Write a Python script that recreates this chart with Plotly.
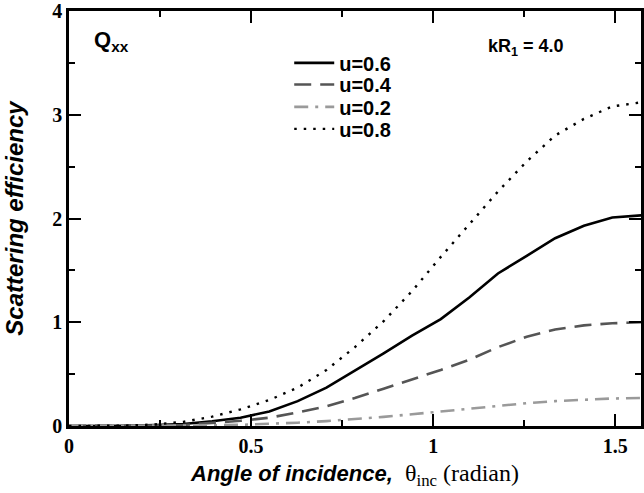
import numpy as np
import plotly.graph_objects as go

# sample angles (radian), 0 .. pi/2 in steps of pi/40
theta = [0.0, 0.0785, 0.157, 0.236, 0.314, 0.393, 0.471, 0.550, 0.628, 0.707,
         0.785, 0.864, 0.942, 1.021, 1.100, 1.178, 1.257, 1.335, 1.414, 1.492, 1.571]

q_u06 = [0.0, 0.0, 0.002, 0.008, 0.02, 0.045, 0.08, 0.14, 0.24, 0.37,
         0.53, 0.70, 0.87, 1.03, 1.24, 1.47, 1.64, 1.81, 1.93, 2.01, 2.03]
q_u04 = [0.0, 0.0, 0.001, 0.004, 0.01, 0.03, 0.05, 0.08, 0.13, 0.19,
         0.27, 0.36, 0.45, 0.54, 0.64, 0.76, 0.86, 0.93, 0.97, 0.99, 1.0]
q_u02 = [0.0, 0.0, 0.0, 0.001, 0.003, 0.006, 0.011, 0.02, 0.032, 0.047,
         0.066, 0.088, 0.113, 0.14, 0.168, 0.195, 0.22, 0.24, 0.255, 0.265, 0.27]
q_u08 = [0.0, 0.0, 0.004, 0.015, 0.04, 0.09, 0.16, 0.25, 0.37, 0.54,
         0.76, 1.01, 1.30, 1.63, 1.95, 2.26, 2.55, 2.80, 2.96, 3.08, 3.12]

series_names = ["u=0.6", "u=0.4", "u=0.2", "u=0.8"]
series_vals = [q_u06, q_u04, q_u02, q_u08]

x_ticks = [0, 0.5, 1, 1.5]
x_ticklabels = ["0", "0.5", "1", "1.5"]
y_ticks = [0, 1, 2, 3, 4]
y_ticklabels = ["0", "1", "2", "3", "4"]

SANS = "Liberation Sans, Arial, sans-serif"
SERIF = "Liberation Serif, Times New Roman, serif"

styles = [
    dict(color="black", width=2.6, dash="solid"),
    dict(color="#555555", width=2.6, dash="17px,9px"),
    dict(color="#9a9a9a", width=2.6, dash="14px,7px,3px,7px"),
    dict(color="black", width=2.4, dash="2.5px,7px"),
]
legend_ids = ["legend", "legend2", "legend3", "legend4"]
legend_rows = [0.875, 0.823, 0.769, 0.716]

fig = go.Figure()
for name, vals, st, lid in zip(series_names, series_vals, styles, legend_ids):
    fig.add_trace(go.Scatter(x=theta, y=vals, mode="lines", name=name, line=st, legend=lid))

axis_common = dict(
    showline=True, linecolor="black", linewidth=2.5, mirror="allticks",
    ticks="inside", ticklen=12, tickwidth=2, tickcolor="black",
    showgrid=False, zeroline=False, ticklabeloverflow="allow",
    tickfont=dict(family=SERIF, size=20, color="black", weight="bold"),
)

fig.update_xaxes(
    range=[0, np.pi / 2], tickmode="array", tickvals=x_ticks, ticktext=x_ticklabels,
    minor=dict(ticks="inside", ticklen=6, dtick=0.25, tick0=0, tickwidth=1.5, tickcolor="black", showgrid=False),
    title=dict(
        text="<b><i>Angle of incidence,</i></b>  <span style='font-family:Liberation Serif;font-size:24px'>θ<sub>inc</sub> (radian)</span>",
        font=dict(family=SANS, size=22, color="black"), standoff=10),
    **axis_common,
)
fig.update_yaxes(
    range=[0, 4], tickmode="array", tickvals=y_ticks, ticktext=y_ticklabels,
    minor=dict(ticks="inside", ticklen=6, dtick=0.5, tick0=0, tickwidth=1.5, tickcolor="black", showgrid=False),
    title=dict(text="<b><i>Scattering efficiency</i></b>",
               font=dict(family=SANS, size=24, color="black"), standoff=22),
    **axis_common,
)

fig.add_annotation(x=0.04, y=0.928, xref="paper", yref="paper", xanchor="left", yanchor="middle",
                   text="<b>Q<sub>xx</sub></b>", showarrow=False,
                   font=dict(family=SANS, size=22, color="black"))
fig.add_annotation(x=0.729, y=0.912, xref="paper", yref="paper", xanchor="left", yanchor="middle",
                   text="<b>kR<sub>1</sub> = 4.0</b>", showarrow=False,
                   font=dict(family=SANS, size=18, color="black"))

legend_common = dict(x=0.385, xanchor="left", yanchor="middle",
                     bgcolor="rgba(0,0,0,0)", borderwidth=0,
                     font=dict(family=SANS, size=20, color="black", weight="bold"),
                     itemwidth=40)
layout_legends = {lid: dict(y=yr, **legend_common) for lid, yr in zip(legend_ids, legend_rows)}

fig.update_layout(
    width=644, height=493,
    margin=dict(l=69, r=0, t=10, b=67),
    paper_bgcolor="white", plot_bgcolor="white",
    showlegend=True,
    **layout_legends,
)

fig.write_html("out.html")
